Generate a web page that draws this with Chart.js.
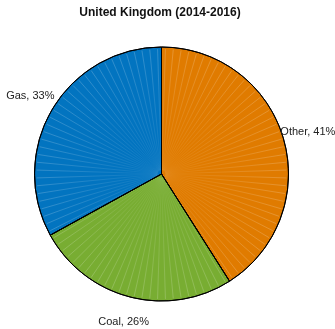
<!DOCTYPE html>
<html>
<head>
<meta charset="utf-8">
<script src="https://cdn.jsdelivr.net/npm/chart.js@4/dist/chart.umd.min.js"></script>
<style>
html,body{margin:0;padding:0;background:#fff;}
#wrap{width:335px;height:329px;position:relative;}
</style>
</head>
<body>
<div id="wrap"><canvas id="c" width="335" height="329"></canvas></div>
<script>
const title = "United Kingdom (2014-2016)";
const categories = ["Other", "Coal", "Gas"];
const shares = [41, 26, 33];
const colors = ["#E07B00", "#78AD32", "#0274C0"];

const labelPlugin = {
  id: 'pieLabels',
  afterDatasetsDraw(chart) {
    const ctx = chart.ctx;
    const meta = chart.getDatasetMeta(0);
    const a0 = meta.data[0];
    const cx = a0.x, cy = a0.y, R = a0.outerRadius;
    // faint radial streaks like the original rendering
    ctx.save();
    const g = ctx.createRadialGradient(cx, cy, 0, cx, cy, R);
    g.addColorStop(0, 'rgba(255,255,255,0.05)');
    g.addColorStop(0.4, 'rgba(255,255,255,0.12)');
    g.addColorStop(1, 'rgba(255,255,255,0.28)');
    ctx.strokeStyle = g;
    ctx.lineWidth = 0.7;
    for (let d = 1.8; d < 360; d += 3.6) {
      const t = (d - 90) * Math.PI / 180;
      ctx.beginPath();
      ctx.moveTo(cx + Math.cos(t) * 4, cy + Math.sin(t) * 4);
      ctx.lineTo(cx + Math.cos(t) * (R - 2), cy + Math.sin(t) * (R - 2));
      ctx.stroke();
    }
    ctx.restore();
    // black border on top
    ctx.save();
    ctx.strokeStyle = '#000';
    ctx.lineWidth = 1;
    meta.data.forEach(arc => {
      ctx.beginPath();
      ctx.moveTo(cx, cy);
      ctx.arc(cx, cy, R, arc.startAngle, arc.endAngle);
      ctx.closePath();
      ctx.stroke();
    });
    ctx.restore();
    // labels
    ctx.save();
    ctx.font = '11px "Liberation Sans", Arial, sans-serif';
    ctx.fillStyle = '#222';
    ctx.textAlign = 'center';
    ctx.textBaseline = 'middle';
    meta.data.forEach((arc, i) => {
      const mid = (arc.startAngle + arc.endAngle) / 2;
      const r = arc.outerRadius * 1.2;
      ctx.fillText(categories[i] + ', ' + shares[i] + '%', arc.x + Math.cos(mid) * r, arc.y + Math.sin(mid) * r);
    });
    // title
    ctx.font = 'bold 12px "Liberation Sans", Arial, sans-serif';
    ctx.fillStyle = '#111';
    ctx.fillText(title, 160, 13);
    ctx.restore();
  }
};

new Chart(document.getElementById('c'), {
  type: 'pie',
  data: {
    labels: categories,
    datasets: [{
      data: shares,
      backgroundColor: colors,
      borderColor: '#000',
      borderWidth: 1,
      borderAlign: 'center'
    }]
  },
  options: {
    responsive: false,
    animation: false,
    radius: 127,
    layout: { padding: { left: 34.5, right: 46.5, top: 47, bottom: 28 } },
    plugins: {
      legend: { display: false },
      title: { display: false },
      tooltip: { enabled: false }
    }
  },
  plugins: [labelPlugin]
});
</script>
</body>
</html>
